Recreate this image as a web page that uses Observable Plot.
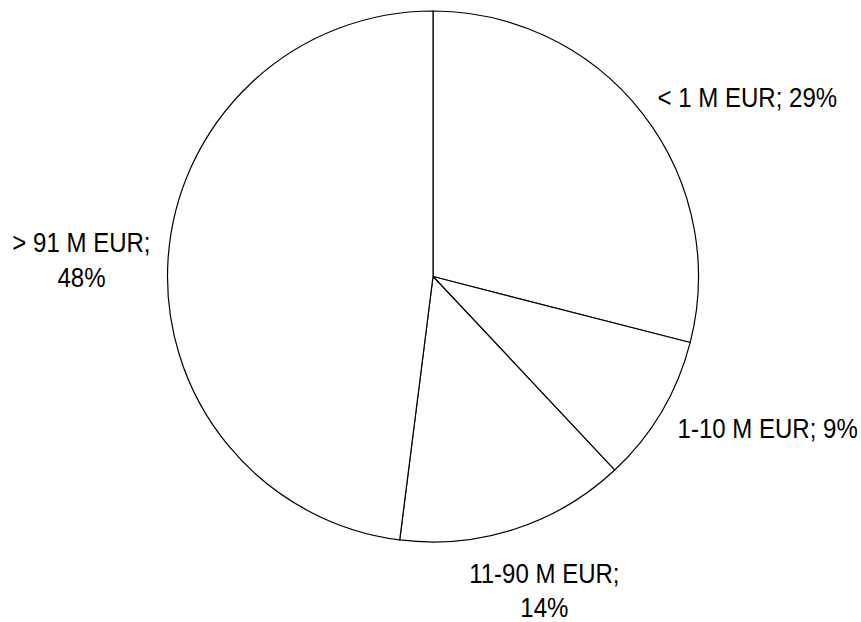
<!DOCTYPE html>
<html>
<head>
<meta charset="utf-8">
<script src="https://cdn.jsdelivr.net/npm/d3@7"></script>
<script src="https://cdn.jsdelivr.net/npm/@observablehq/plot@0.6"></script>
<style>
  html, body { margin: 0; padding: 0; background: #ffffff; }
  #chart svg { display: block; }
</style>
</head>
<body>
<div id="chart"></div>
<script>
// ---- data ----
const categories = ["< 1 M EUR", "1-10 M EUR", "11-90 M EUR", "> 91 M EUR"];
const shares = [29, 9, 14, 48];
const labelWraps = [false, false, true, true];

// ---- layout ----
const W = 861, H = 622;
const cx = 433, cy = 276.5, r = 265.5;   // pie centre and radius in px
const gapX = 18, gapY = 30;               // px between rim and label anchor
const fontSize = 27;
const condense = 0.89;                    // horizontal squeeze of the label font
const fontName = "'Liberation Sans', Arial, sans-serif";

const data = categories.map((c, i) => ({
  category: c,
  share: shares[i],
  label: `${c};${labelWraps[i] ? "\n" : " "}${shares[i]}%`
}));

// measure label widths (px) as drawn
const ctx = document.createElement("canvas").getContext("2d");
ctx.font = `${fontSize}px ${fontName}`;
const textWidth = s => d3.max(s.split("\n"), l => ctx.measureText(l).width) * condense;

const arcs = d3.pie().sort(null).value(d => d.share)(data);
const labels = arcs.map(a => {
  const mid = (a.startAngle + a.endAngle) / 2;
  const s = Math.sin(mid), c = Math.cos(mid);
  const deg = mid * 180 / Math.PI;
  const half = textWidth(a.data.label) / 2 / r;      // half width in radius units
  const px = (1 + gapX / r) * s, py = (1 + gapY / r) * c;
  let side, x;
  if (deg >= 45 && deg < 135) { side = "right"; x = px + half; }
  else if (deg >= 225 && deg < 315) { side = "left"; x = px - half; }
  else { side = deg < 225 && deg >= 135 ? "bottom" : "top"; x = px + half * s; }
  return {label: a.data.label, x, y: py, side};
});

function pieMark(index, scales) {
  const x0 = scales.x(0), y0 = scales.y(0);
  const rad = scales.x(1) - x0;
  const arc = d3.arc().innerRadius(0).outerRadius(rad);
  const g = d3.create("svg:g").attr("transform", `translate(${x0},${y0})`);
  g.selectAll("path")
    .data(arcs)
    .join("path")
    .attr("d", arc)
    .attr("fill", "#ffffff")
    .attr("stroke", "#000000")
    .attr("stroke-width", 1.2)
    .attr("stroke-linejoin", "round");
  return g.node();
}

const textOpts = {
  x: "x", y: "y", text: "label", textAnchor: "middle",
  fontSize, lineHeight: 1.28, fill: "#000000"
};
const isSide = d => d.side === "right" || d.side === "left";

const chart = Plot.plot({
  width: W,
  height: H,
  margin: 0,
  style: {fontFamily: fontName, background: "#ffffff"},
  x: {domain: [-cx / r, (W - cx) / r], axis: null},
  y: {domain: [-(H - cy) / r, cy / r], axis: null},
  marks: [
    pieMark,
    Plot.text(labels.filter(isSide), {...textOpts, lineAnchor: "middle"}),
    Plot.text(labels.filter(d => d.side === "bottom"), {...textOpts, lineAnchor: "top"}),
    Plot.text(labels.filter(d => d.side === "top"), {...textOpts, lineAnchor: "bottom"})
  ]
});

// condense the label glyphs horizontally around their anchor
chart.querySelectorAll('g[aria-label="text"] text').forEach(t => {
  const tr = t.getAttribute("transform") || "";
  t.setAttribute("transform", `${tr} scale(${condense},1)`);
});

document.getElementById("chart").appendChild(chart);
</script>
</body>
</html>
